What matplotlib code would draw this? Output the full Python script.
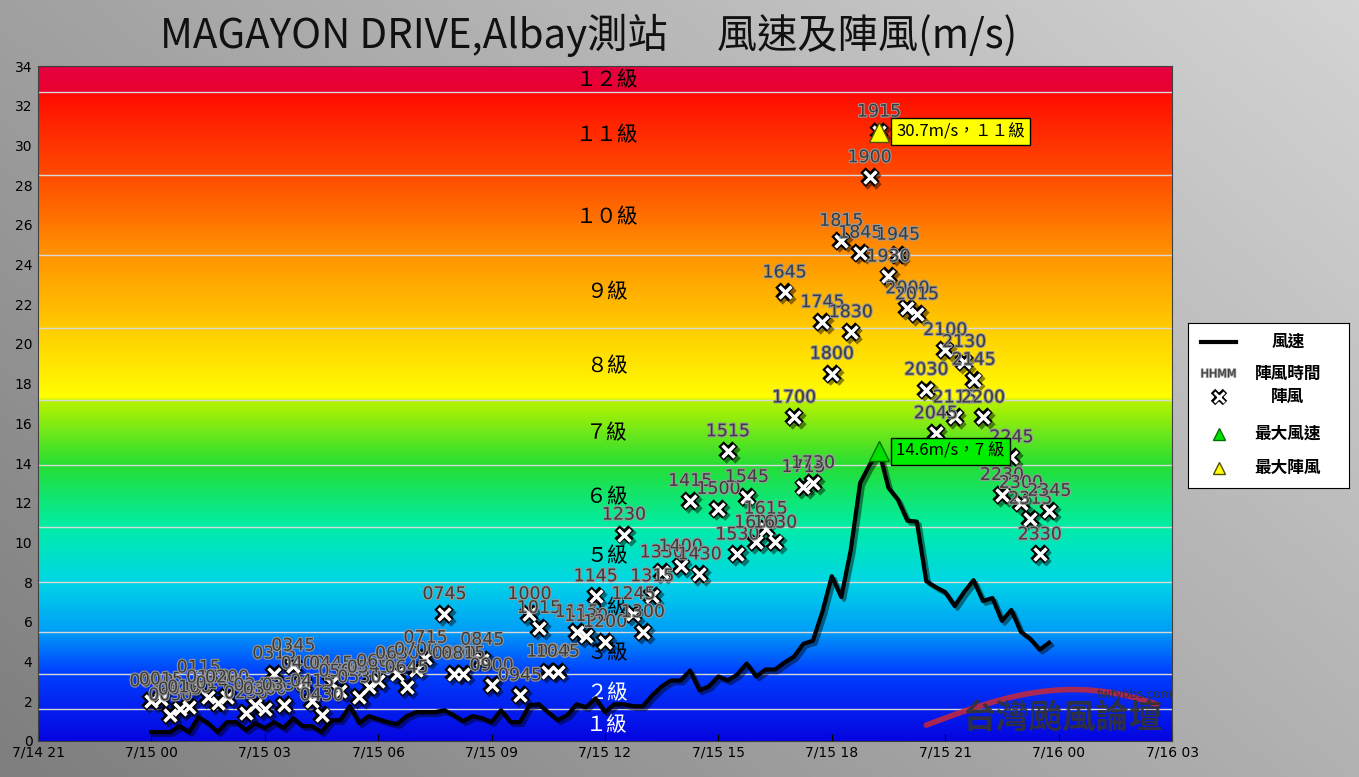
import matplotlib
matplotlib.use("Agg")
import matplotlib.pyplot as plt
import numpy as np
import matplotlib.patheffects as pe
from matplotlib.colors import LinearSegmentedColormap

plt.rcParams['font.family'] = ['Noto Sans CJK TC', 'DejaVu Sans']

# ---- data ----
wind_speed = [0.45,0.45,0.45,0.75,0.45,1.2,0.9,0.45,0.95,0.95,0.55,0.9,0.65,0.95,0.65,1.15,
              0.75,0.75,0.45,1.05,1.05,1.75,0.9,1.25,1.1,0.95,0.85,1.25,1.45,1.45,1.45,1.55,
              1.3,1.0,1.25,1.15,0.95,1.55,0.95,0.95,1.8,1.85,1.45,1.05,1.3,1.85,1.7,2.15,
              1.45,1.85,1.85,1.75,1.75,2.3,2.75,3.05,3.05,3.55,2.55,2.75,3.25,3.05,3.35,3.9,
              3.25,3.6,3.6,3.95,4.25,4.9,5.05,6.5,8.3,7.25,9.6,13.0,13.9,14.6,12.75,12.15,
              11.1,11.05,8.05,7.75,7.5,6.8,7.5,8.1,7.05,7.2,6.05,6.6,5.5,5.15,4.6,4.95]
gust_times = ["0000","0015","0030","0045","0100","0115","0130","0145","0200","0230","0245","0300",
              "0315","0330","0345","0400","0415","0430","0445","0500","0530","0545","0600","0630",
              "0645","0700","0715","0745","0800","0815","0845","0900","0945","1000","1015","1030",
              "1045","1115","1130","1145","1200","1230","1245","1300","1315","1330","1400","1415",
              "1430","1500","1515","1530","1545","1600","1615","1630","1645","1700","1715","1730",
              "1745","1800","1815","1830","1845","1900","1915","1930","1945","2000","2015","2030",
              "2045","2100","2115","2130","2145","2200","2230","2245","2300","2315","2330","2345"]
gust_values = [2.0,2.1,1.3,1.6,1.7,2.7,2.2,1.9,2.2,1.4,1.8,1.6,3.4,1.8,3.8,2.9,2.0,1.3,2.9,2.5,
               2.2,2.7,3.0,3.4,2.7,3.6,4.2,6.4,3.4,3.4,4.1,2.8,2.3,6.4,5.7,3.5,3.5,5.5,5.3,7.3,
               5.0,10.4,6.4,5.5,7.3,8.5,8.8,12.1,8.4,11.7,14.6,9.4,12.3,10.0,10.7,10.0,22.6,16.3,
               12.8,13.0,21.1,18.5,25.2,20.6,24.6,28.4,30.7,23.4,24.5,21.8,21.5,17.7,15.5,19.7,
               16.3,19.1,18.2,16.3,12.4,14.3,12.0,11.2,9.4,11.6]
level_names = ["１級","２級","３級","４級","５級","６級","７級","８級","９級","１０級","１１級","１２級"]
level_bounds = [1.6,3.4,5.5,8.0,10.8,13.9,17.2,20.8,24.5,28.5,32.7]
level_label_y = [0.8,2.4,4.4,6.7,9.3,12.3,15.5,18.9,22.6,26.4,30.5,33.3]
tick_labels = ["7/14 21","7/15 00","7/15 03","7/15 06","7/15 09","7/15 12","7/15 15",
               "7/15 18","7/15 21","7/16 00","7/16 03"]

wind_x = np.arange(len(wind_speed)) * 0.25
gust_x = np.array([int(t[:2]) + int(t[2:]) / 60 for t in gust_times])

fig = plt.figure(figsize=(13.59, 7.77), dpi=100)
bg = fig.add_axes([0, 0, 1, 1], zorder=-10)
g = np.linspace(0, 1, 256)[None, :] * 0.6 + np.linspace(1, 0, 256)[:, None] * 0.4
bg.imshow(g, cmap=LinearSegmentedColormap.from_list('g', ['#7e7e7e', '#d4d4d4']), aspect='auto',
          extent=[0, 1, 0, 1])
bg.axis('off')

ax = fig.add_axes([38/1359, 36/777, (1172-38)/1359, (741-66)/777])
stops = [(0, (0.02,0.02,0.88)), (3.4/34, (0,0.25,1)), (5.5/34, (0,0.62,0.97)), (8/34, (0,0.84,0.9)),
         (10.8/34, (0,0.93,0.65)), (13.9/34, (0.15,0.87,0.2)), (17.15/34, (0.72,0.95,0)),
         (17.25/34, (1,1,0)), (20.8/34, (1,0.8,0)), (24.5/34, (1,0.58,0)), (28.5/34, (1,0.3,0)),
         (32.65/34, (1,0.05,0)), (32.75/34, (0.92,0,0.18)), (1, (0.9,0,0.25))]
cmap = LinearSegmentedColormap.from_list('bf', stops)
ax.imshow(np.linspace(0, 1, 500)[:, None], cmap=cmap, aspect='auto', origin='lower',
          extent=[-3, 27, 0, 34], zorder=0)
for b in level_bounds:
    ax.axhline(b, color='#d8d8d8', lw=1, zorder=1)
for name, yv in zip(level_names, level_label_y):
    col = 'white' if yv < 3 else 'black'
    ax.text(12.05, yv, name, ha='center', va='center', fontsize=15, color=col, zorder=2)

# watermark
tt = np.linspace(0, 1, 60)
ax.plot(20.5 + 6.1 * tt, 0.8 + 2.4 * np.sin(tt * np.pi * 0.7) - 0.9 * tt, color='#c82838',
        lw=4, alpha=0.85, zorder=3, solid_capstyle='round')
ax.text(24.1, 1.15, "台灣颱風論壇", fontsize=24, color='#333333', fontweight='bold', ha='center',
        va='center', zorder=3, alpha=0.9)
ax.text(26.0, 2.35, "twtybbs.com", fontsize=9, color='#333333', ha='center', va='center', zorder=3)

sh = [pe.SimpleLineShadow(offset=(2, -2), alpha=0.45), pe.Normal()]
ax.plot(wind_x, wind_speed, color='black', lw=3, zorder=4, path_effects=sh)
ax.plot(gust_x, gust_values, 'x', ms=10, mew=5.5, color='black', ls='none', zorder=5, path_effects=sh)
ax.plot(gust_x, gust_values, 'x', ms=9, mew=2.5, color='white', ls='none', zorder=6)
for t, xv, yv in zip(gust_times, gust_x, gust_values):
    ax.text(xv, yv + 0.55, t, ha='center', va='bottom', fontsize=12.5, color='#3c3c3c',
            family='DejaVu Sans', zorder=7,
            path_effects=[pe.withStroke(linewidth=1.5, foreground='#9a9a9a')])

imax = int(np.argmax(wind_speed))
ax.plot(wind_x[imax], wind_speed[imax], '^', ms=14, color='#00e000', mec='#007000', zorder=8)
ax.text(wind_x[imax] + 0.45, wind_speed[imax], f"{wind_speed[imax]}m/s，7 級", fontsize=12,
        va='center', ha='left', zorder=9,
        bbox=dict(boxstyle='square,pad=0.3', fc='#00ee00', ec='black', lw=1))
gmax = int(np.argmax(gust_values))
ax.plot(gust_x[gmax], gust_values[gmax], '^', ms=14, color='#ffff00', mec='#505000', zorder=8)
ax.text(gust_x[gmax] + 0.45, gust_values[gmax], f"{gust_values[gmax]}m/s，１１級", fontsize=12,
        va='center', ha='left', zorder=9,
        bbox=dict(boxstyle='square,pad=0.3', fc='#ffff00', ec='black', lw=1))

ax.set_xlim(-3, 27)
ax.set_ylim(0, 34)
ax.set_xticks(np.arange(-3, 28, 3))
ax.set_xticklabels(tick_labels, fontsize=10, family='DejaVu Sans')
ax.set_yticks(np.arange(0, 35, 2))
ax.set_yticklabels([str(v) for v in range(0, 35, 2)], fontsize=10, family='DejaVu Sans')
ax.tick_params(axis='y', length=0, pad=4)
ax.tick_params(axis='x', length=5, direction='in')
for s in ax.spines.values():
    s.set_color('#404040')

fig.text(0.433, 0.955, "MAGAYON DRIVE,Albay測站　 風速及陣風(m/s)", ha='center', va='center',
         fontsize=29, color='#111111')

# legend
lg = fig.add_axes([1188/1359, (777-488)/777, (1349-1188)/1359, (488-323)/777])
lg.set_xlim(0, 1); lg.set_ylim(0, 1)
lg.set_xticks([]); lg.set_yticks([])
lg.set_facecolor('white')
for s in lg.spines.values():
    s.set_color('black')
lg.plot([0.08, 0.3], [0.885, 0.885], color='black', lw=3)
lg.text(0.62, 0.885, "風速", ha='center', va='center', fontsize=12, fontweight='bold')
lg.text(0.19, 0.69, "HHMM", ha='center', va='center', fontsize=8, color='#3c3c3c', family='DejaVu Sans',
        path_effects=[pe.withStroke(linewidth=1.2, foreground='#9a9a9a')])
lg.text(0.62, 0.69, "陣風時間", ha='center', va='center', fontsize=12, fontweight='bold')
lg.plot(0.19, 0.55, 'x', ms=8, mew=4.5, color='black')
lg.plot(0.19, 0.55, 'x', ms=7, mew=2, color='white')
lg.text(0.62, 0.55, "陣風", ha='center', va='center', fontsize=12, fontweight='bold')
lg.plot(0.19, 0.33, '^', ms=9, color='#00e000', mec='#007000')
lg.text(0.62, 0.33, "最大風速", ha='center', va='center', fontsize=12, fontweight='bold')
lg.plot(0.19, 0.12, '^', ms=9, color='#ffff00', mec='#505000')
lg.text(0.62, 0.12, "最大陣風", ha='center', va='center', fontsize=12, fontweight='bold')

fig.savefig("out.png", dpi=100)
